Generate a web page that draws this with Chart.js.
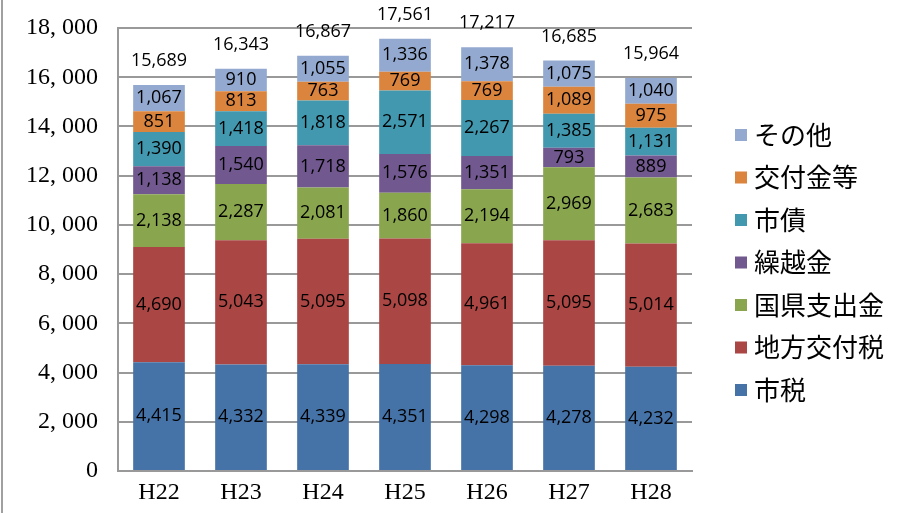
<!DOCTYPE html>
<html>
<head>
<meta charset="utf-8">
<script src="https://cdn.jsdelivr.net/npm/chart.js@4/dist/chart.umd.min.js"></script>
<style>
  html, body { margin: 0; padding: 0; background: #fff; }
  #wrap { width: 910px; height: 513px; position: relative; }
</style>
</head>
<body>
<div id="wrap"><canvas id="chart" width="910" height="513"></canvas></div>
<script>
// 歳入の内訳（百万円）
const years = ['H22', 'H23', 'H24', 'H25', 'H26', 'H27', 'H28'];

const shizei        = [4415, 4332, 4339, 4351, 4298, 4278, 4232];
const chihoKofuzei  = [4690, 5043, 5095, 5098, 4961, 5095, 5014];
const kokukenShishutsu = [2138, 2287, 2081, 1860, 2194, 2969, 2683];
const kurikoshi     = [1138, 1540, 1718, 1576, 1351, 793, 889];
const shisai        = [1390, 1418, 1818, 2571, 2267, 1385, 1131];
const kofukinTo     = [851, 813, 763, 769, 769, 1089, 975];
const sonota        = [1067, 910, 1055, 1336, 1378, 1075, 1040];

// 合計（四捨五入の関係で内訳の和と一致しない年がある）
const totals = [15689, 16343, 16867, 17561, 17217, 16685, 15964];

const yTicks = [0, 2000, 4000, 6000, 8000, 10000, 12000, 14000, 16000, 18000];

const series = [
  { label: '市税',       data: shizei,           color: '#4572A7' },
  { label: '地方交付税', data: chihoKofuzei,     color: '#AA4643' },
  { label: '国県支出金', data: kokukenShishutsu, color: '#89A54E' },
  { label: '繰越金',     data: kurikoshi,        color: '#71588F' },
  { label: '市債',       data: shisai,           color: '#4198AF' },
  { label: '交付金等',   data: kofukinTo,        color: '#DB843D' },
  { label: 'その他',     data: sonota,           color: '#93A9CF' }
];

const fmt = v => v.toLocaleString('en-US');
const numFont = "18px 'Open Sans', 'Noto Sans', sans-serif";

// segment values, totals above each bar, legend on the right
const labelsPlugin = {
  id: 'labels',
  beforeDraw(chart) {
    const ctx = chart.ctx;
    ctx.save();
    ctx.strokeStyle = '#a0a0a0';
    ctx.lineWidth = 2;
    ctx.beginPath();
    ctx.moveTo(2, 0);
    ctx.lineTo(2, chart.height);
    ctx.stroke();
    ctx.restore();
  },
  afterDatasetsDraw(chart) {
    const ctx = chart.ctx;
    ctx.save();
    ctx.font = numFont;
    ctx.fillStyle = '#000';
    ctx.textAlign = 'center';
    ctx.textBaseline = 'middle';
    chart.data.datasets.forEach((ds, di) => {
      const meta = chart.getDatasetMeta(di);
      meta.data.forEach((bar, i) => {
        ctx.fillText(fmt(ds.data[i]), bar.x, (bar.y + bar.base) / 2);
      });
    });
    const top = chart.getDatasetMeta(chart.data.datasets.length - 1);
    top.data.forEach((bar, i) => {
      ctx.fillText(fmt(totals[i]), bar.x, bar.y - 24);
    });

    // legend, top item is the last series
    ctx.textAlign = 'left';
    ctx.font = "26px 'Noto Sans CJK JP', sans-serif";
    const n = chart.data.datasets.length;
    const x0 = 735, y0 = 135, step = 42.5;
    for (let k = 0; k < n; k++) {
      const ds = chart.data.datasets[n - 1 - k];
      const y = y0 + k * step;
      ctx.fillStyle = ds.backgroundColor;
      ctx.fillRect(x0, y - 6, 12, 12);
      ctx.fillStyle = '#000';
      ctx.fillText(ds.label, x0 + 19, y);
    }
    ctx.restore();
  }
};

new Chart(document.getElementById('chart'), {
  type: 'bar',
  data: {
    labels: years,
    datasets: series.map(s => ({
      label: s.label,
      data: s.data,
      backgroundColor: s.color,
      borderWidth: 0,
      barPercentage: 0.63,
      categoryPercentage: 1
    }))
  },
  options: {
    responsive: false,
    animation: false,
    layout: { padding: { left: 0, right: 218, top: 28, bottom: 0 } },
    plugins: {
      legend: { display: false },
      tooltip: { enabled: false }
    },
    scales: {
      x: {
        stacked: true,
        grid: { display: false, drawTicks: false },
        border: { display: true, color: '#999', width: 2 },
        ticks: {
          padding: 7,
          color: '#000',
          font: { family: "'Liberation Serif', serif", size: 24 }
        },
        afterFit(scale) { scale.height = 42; }
      },
      y: {
        stacked: true,
        min: 0,
        max: 18000,
        afterBuildTicks(scale) { scale.ticks = yTicks.map(v => ({ value: v })); },
        grid: { color: '#999', lineWidth: 2, drawTicks: false },
        border: { display: true, color: '#999', width: 2 },
        ticks: {
          padding: 20,
          color: '#000',
          font: { family: "'Liberation Serif', serif", size: 24 },
          callback: v => fmt(v).replace(',', ', ')
        },
        afterFit(scale) {
          scale.width = 118;
          scale.paddingTop = 0;
          scale.paddingBottom = 0;
        }
      }
    }
  },
  plugins: [labelsPlugin]
});
</script>
</body>
</html>
